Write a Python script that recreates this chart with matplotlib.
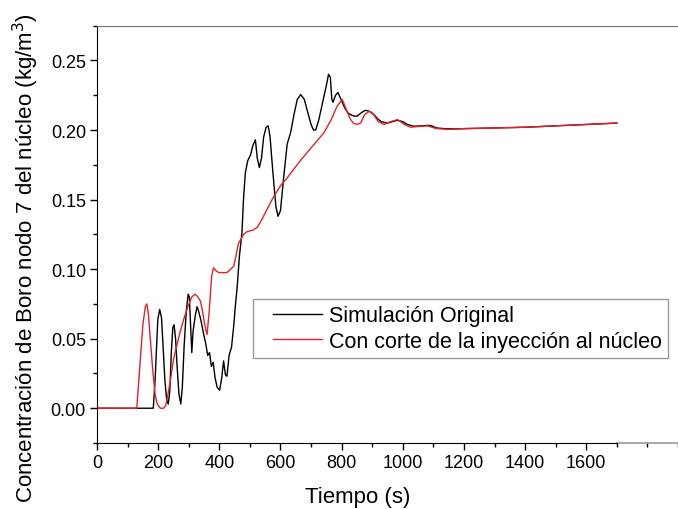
import numpy as np
import matplotlib
matplotlib.use("Agg")
import matplotlib.pyplot as plt
from matplotlib.ticker import MultipleLocator
from matplotlib.lines import Line2D
from matplotlib.legend_handler import HandlerLine2D

plt.rcParams['font.family'] = ['Liberation Sans', 'DejaVu Sans']

# Simulación original (negro)
t_orig = [0, 184, 190, 195, 199, 205, 211, 216, 222, 228, 233, 238, 243, 248, 252,
          257, 262, 268, 274, 279, 285, 292, 298, 302, 306, 310, 314, 321, 327, 332,
          340, 348, 356, 362, 368, 374, 380, 386, 393, 401, 408, 414, 420, 425, 432,
          440, 447, 453, 458, 466, 474, 479, 485, 493, 502, 510, 518, 524, 531, 538,
          545, 553, 560, 566, 575, 585, 592, 600, 610, 622, 633, 645, 655, 666, 678,
          690, 700, 708, 715, 725, 740, 750, 757, 763, 768, 772, 780, 788, 798, 810,
          822, 830, 840, 851, 862, 875, 884, 895, 906, 918, 930, 950, 965, 983, 1000,
          1015, 1037, 1060, 1080, 1092, 1110, 1135, 1170, 1200, 1300, 1400, 1500,
          1600, 1700]
c_orig = [0.0, 0.0, 0.020, 0.045, 0.064, 0.071, 0.065, 0.045, 0.020, 0.006, 0.003,
          0.012, 0.040, 0.058, 0.060, 0.050, 0.030, 0.010, 0.003, 0.015, 0.045, 0.070,
          0.082, 0.080, 0.060, 0.040, 0.055, 0.066, 0.073, 0.070, 0.063, 0.054, 0.046,
          0.038, 0.040, 0.030, 0.033, 0.022, 0.015, 0.013, 0.022, 0.034, 0.024, 0.023,
          0.038, 0.044, 0.059, 0.075, 0.086, 0.110, 0.126, 0.150, 0.169, 0.178, 0.182,
          0.189, 0.193, 0.180, 0.173, 0.180, 0.195, 0.202, 0.203, 0.195, 0.170, 0.145,
          0.138, 0.142, 0.165, 0.190, 0.198, 0.212, 0.222, 0.2255, 0.222, 0.212, 0.204,
          0.200, 0.200, 0.207, 0.222, 0.232, 0.240, 0.238, 0.222, 0.220, 0.225, 0.227,
          0.222, 0.216, 0.212, 0.211, 0.210, 0.210, 0.212, 0.214, 0.214, 0.213, 0.211,
          0.208, 0.206, 0.205, 0.206, 0.207, 0.206, 0.204, 0.2027, 0.2030, 0.2033,
          0.2032, 0.2015, 0.201, 0.2008, 0.201, 0.2015, 0.202, 0.203, 0.204, 0.205]

# Con corte de la inyección al núcleo (rojo)
t_corte = [0, 130, 140, 150, 158, 163, 168, 175, 182, 190, 197, 207, 218, 225, 232,
           240, 250, 262, 272, 285, 299, 310, 321, 330, 338, 345, 350, 356, 360, 367,
           375, 381, 388, 398, 410, 425, 437, 447, 455, 462, 469, 480, 491, 510, 524,
           540, 556, 575, 600, 620, 644, 665, 688, 715, 742, 765, 785, 802, 815, 828,
           838, 850, 862, 875, 890, 905, 920, 939, 960, 983, 1005, 1026, 1050, 1081,
           1110, 1150, 1200, 1300, 1400, 1500, 1600, 1700]
c_corte = [0.0, 0.0, 0.030, 0.060, 0.073, 0.075, 0.068, 0.048, 0.028, 0.010, 0.003,
           0.0, 0.0, 0.002, 0.010, 0.020, 0.035, 0.046, 0.055, 0.065, 0.074, 0.080,
           0.082, 0.080, 0.077, 0.070, 0.063, 0.056, 0.053, 0.070, 0.095, 0.101, 0.099,
           0.0975, 0.0975, 0.0975, 0.100, 0.102, 0.110, 0.118, 0.121, 0.125, 0.127,
           0.128, 0.130, 0.136, 0.143, 0.151, 0.160, 0.165, 0.172, 0.178, 0.184, 0.191,
           0.198, 0.207, 0.217, 0.222, 0.215, 0.208, 0.205, 0.204, 0.205, 0.211, 0.2135,
           0.211, 0.206, 0.204, 0.206, 0.2075, 0.204, 0.202, 0.2025, 0.203, 0.201,
           0.2005, 0.201, 0.2015, 0.202, 0.203, 0.204, 0.205]

fig = plt.figure(figsize=(6.78, 5.10), dpi=100)
ax = fig.add_axes([97 / 678, 66 / 510, 581 / 678, (444 - 26.7) / 510])

ax.plot(t_orig, c_orig, color="black", lw=1.0, label="Simulación Original")
ax.plot(t_corte, c_corte, color="#e8202a", lw=1.0, label="Con corte de la inyección al núcleo")

ax.set_xlim(0, 1900)
ax.set_ylim(-0.025, 0.275)
ax.set_xticks(np.arange(0, 1601, 200))
ax.xaxis.set_minor_locator(MultipleLocator(100))
ax.set_yticks(np.arange(0, 0.251, 0.05))
ax.set_yticklabels(["%.2f" % v for v in np.arange(0, 0.251, 0.05)])
ax.yaxis.set_minor_locator(MultipleLocator(0.025))

ax.tick_params(which="major", direction="out", length=5, width=1, labelsize=13, pad=3)
ax.tick_params(which="minor", direction="out", length=3, width=1)

ax.spines['right'].set_visible(False)
ax.spines['top'].set_color('#777777')
ax.spines['bottom'].set_bounds(0, 1700)
ax.plot([1700, 1900], [-0.025, -0.025], color='#999999', lw=1.2, clip_on=False)

ax.set_xlabel("Tiempo (s)", fontsize=16)
ax.xaxis.set_label_coords(0.449, -0.103)
ax.set_ylabel("Concentración de Boro nodo 7 del núcleo (kg/m$^3$)", fontsize=16)
ax.yaxis.set_label_coords(-0.097, 0.445)

leg = ax.legend(loc="upper left", bbox_to_anchor=(252.7 / 678, 1 - 300 / 510),
                bbox_transform=fig.transFigure, fontsize=15.5, frameon=True,
                fancybox=False, edgecolor='#808080', borderaxespad=0,
                handlelength=2.9, handletextpad=0.33, borderpad=0.3, labelspacing=0.2,
                handler_map={Line2D: HandlerLine2D(xpad=0.65)})
leg.get_frame().set_linewidth(1.0)

fig.savefig("out.png", dpi=100)
